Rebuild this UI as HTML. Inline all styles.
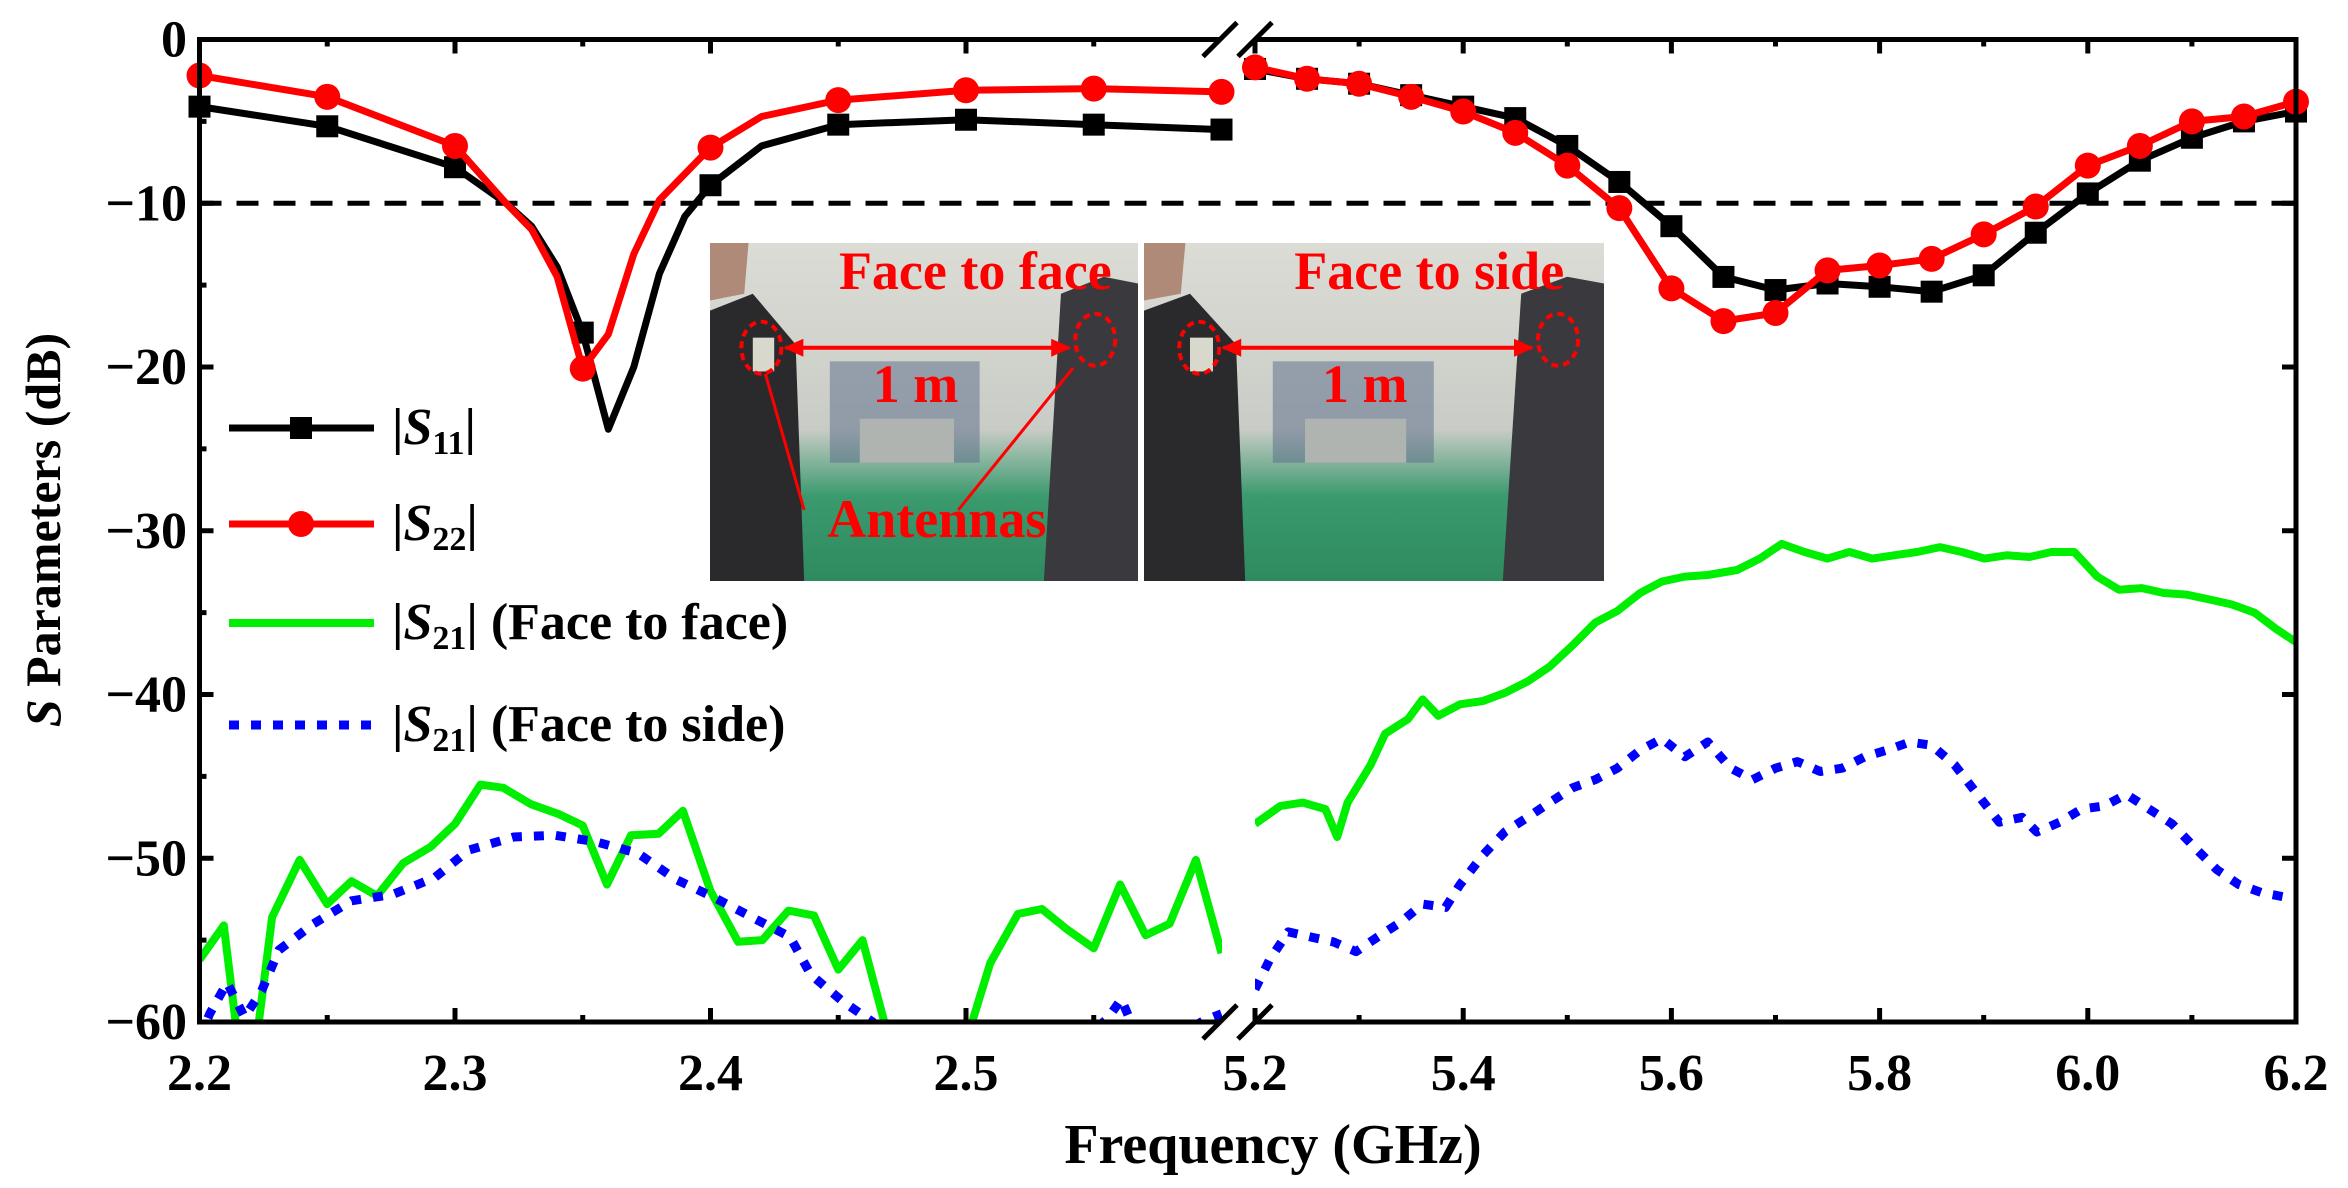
<!DOCTYPE html>
<html><head><meta charset="utf-8"><style>
html,body{margin:0;padding:0;background:#fff}
svg{display:block}
svg text{font-family:"Liberation Serif","Times New Roman",serif;font-weight:bold}
</style></head><body>
<svg id="chart" width="2348" height="1188" viewBox="0 0 2348 1188" xmlns="http://www.w3.org/2000/svg" font-family="Liberation Serif, serif" font-weight="bold">
<defs>
<clipPath id="clipL"><rect x="199" y="39" width="1023" height="984"/></clipPath>
<clipPath id="clipR"><rect x="1255" y="39" width="1042" height="984"/></clipPath>
<linearGradient id="wall" x1="0" y1="0" x2="0" y2="1"><stop offset="0" stop-color="#dcdcd6"/><stop offset="0.55" stop-color="#c9ccc6"/><stop offset="0.75" stop-color="#3a9a6e"/><stop offset="1" stop-color="#2f8a60"/></linearGradient>
</defs>
<g id="photos"></g>
<g id="series"></g>
<g id="axes"></g>
<g id="legend"></g>
</svg>
<script>
// ---- data ----
const s11LeftF=[2.2,2.25,2.3,2.32,2.33,2.34,2.35,2.36,2.37,2.38,2.39,2.4,2.42,2.45,2.5,2.55,2.6];
const s11LeftV=[-4.1,-5.3,-7.8,-10,-11.4,-13.9,-17.9,-23.8,-20,-14.3,-10.8,-8.9,-6.5,-5.2,-4.9,-5.2,-5.5];
const s22LeftF=[2.2,2.25,2.3,2.32,2.33,2.34,2.35,2.36,2.37,2.38,2.39,2.4,2.42,2.45,2.5,2.55,2.6];
const s22LeftV=[-2.2,-3.5,-6.5,-10,-11.6,-14.5,-20.1,-18,-13.1,-9.8,-8.2,-6.6,-4.7,-3.7,-3.1,-3.0,-3.2];
const markerLeftF=[2.2,2.25,2.3,2.35,2.4,2.45,2.5,2.55,2.6];
const rightF=[5.2,5.25,5.3,5.35,5.4,5.45,5.5,5.55,5.6,5.65,5.7,5.75,5.8,5.85,5.9,5.95,6.0,6.05,6.1,6.15,6.2];
const s11RightV=[-1.8,-2.4,-2.7,-3.4,-4.1,-4.8,-6.5,-8.7,-11.4,-14.5,-15.3,-14.9,-15.1,-15.4,-14.4,-11.8,-9.4,-7.4,-6.0,-5.0,-4.4];
const s22RightV=[-1.7,-2.4,-2.7,-3.5,-4.4,-5.7,-7.7,-10.3,-15.2,-17.2,-16.7,-14.1,-13.8,-13.4,-11.9,-10.2,-7.7,-6.5,-5.0,-4.7,-3.8];
const g1LeftF=[2.2,2.2095,2.2149,2.2216,2.2284,2.2392,2.25,2.2595,2.2695,2.2797,2.2905,2.3,2.31,2.3189,2.3297,2.3405,2.35,2.3595,2.3689,2.3797,2.3892,2.4,2.4108,2.4203,2.4305,2.4405,2.45,2.4595,2.4689,2.48,2.49,2.5014,2.5095,2.5203,2.5297,2.5392,2.55,2.5603,2.5703,2.5797,2.59,2.6];
const g1LeftV=[-56.2,-54.1,-61,-62,-53.6,-50.1,-52.8,-51.4,-52.3,-50.3,-49.3,-47.9,-45.5,-45.7,-46.7,-47.3,-48.0,-51.6,-48.6,-48.5,-47.1,-52.0,-55.1,-55.0,-53.2,-53.5,-56.8,-55.0,-60.5,-63,-63,-60.5,-56.4,-53.4,-53.1,-54.3,-55.5,-51.6,-54.7,-54.0,-50.1,-55.8];
const b1LeftF=[2.2,2.204,2.2108,2.2176,2.2243,2.2311,2.2446,2.2595,2.2757,2.2919,2.3054,2.323,2.3392,2.3554,2.3716,2.3865,2.4014,2.4162,2.4311,2.4392,2.4514,2.4635,2.48,2.52,2.55,2.5554,2.5608,2.57,2.5932,2.6];
const b1LeftV=[-61,-59.5,-57.6,-59.7,-58.1,-55.6,-54.0,-52.6,-52.2,-51.2,-49.5,-48.7,-48.6,-49.0,-49.7,-51.3,-52.4,-53.6,-54.8,-57.1,-58.7,-60,-63,-63,-60.5,-59.8,-58.6,-62,-59.9,-59.5];
const g1RightF=[5.2,5.2245,5.246,5.2676,5.279,5.289,5.311,5.325,5.347,5.361,5.376,5.397,5.419,5.44,5.462,5.483,5.505,5.527,5.548,5.57,5.591,5.613,5.635,5.663,5.685,5.706,5.728,5.75,5.771,5.793,5.814,5.836,5.858,5.879,5.901,5.922,5.944,5.965,5.987,6.009,6.03,6.052,6.073,6.095,6.117,6.138,6.16,6.181,6.2];
const g1RightV=[-47.9,-46.8,-46.6,-47.0,-48.7,-46.6,-44.3,-42.4,-41.5,-40.3,-41.3,-40.6,-40.4,-39.9,-39.2,-38.3,-37.0,-35.6,-34.9,-33.8,-33.1,-32.8,-32.7,-32.4,-31.7,-30.8,-31.3,-31.7,-31.3,-31.7,-31.5,-31.3,-31.0,-31.3,-31.7,-31.5,-31.6,-31.3,-31.3,-32.8,-33.6,-33.5,-33.8,-33.9,-34.2,-34.5,-35.0,-36.0,-36.8];
const b1RightF=[5.2,5.214,5.232,5.253,5.275,5.297,5.318,5.34,5.361,5.383,5.397,5.419,5.44,5.462,5.483,5.505,5.527,5.548,5.57,5.591,5.613,5.635,5.657,5.678,5.7,5.721,5.743,5.764,5.786,5.807,5.829,5.85,5.872,5.894,5.915,5.937,5.951,5.973,5.994,6.016,6.037,6.059,6.081,6.102,6.124,6.145,6.167,6.2];
const b1RightV=[-58.0,-56.2,-54.5,-54.8,-55.1,-55.7,-54.8,-53.9,-52.8,-53.0,-51.6,-49.8,-48.4,-47.5,-46.6,-45.7,-45.2,-44.5,-43.4,-42.7,-43.8,-42.9,-44.5,-45.2,-44.5,-44.1,-44.7,-44.5,-43.8,-43.4,-42.9,-43.1,-44.3,-46.1,-47.8,-47.5,-48.4,-47.8,-47.0,-46.8,-46.1,-47.0,-47.9,-49.3,-50.7,-51.6,-52.1,-52.5];
const yTicks=[0,-10,-20,-30,-40,-50,-60];
const yTickLabels=["0","\u221210","\u221220","\u221230","\u221240","\u221250","\u221260"];
const xLeftTicks=[2.2,2.3,2.4,2.5];
const xLeftLabels=["2.2","2.3","2.4","2.5"];
const xRightTicks=[5.2,5.4,5.6,5.8,6.0,6.2];
const xRightLabels=["5.2","5.4","5.6","5.8","6.0","6.2"];

// ---- scales ----
const X0=199.5,X1=2296,Y0=39.5,Y1=1022;
function xL(f){return 199.5+(f-2.2)*2555;}
function xR(f){return 1255+(f-5.2)*1041;}
function y(d){return Y0-d*(Y1-Y0)/60;}
const NS="http://www.w3.org/2000/svg";
function mk(tag,attrs,parent){const e=document.createElementNS(NS,tag);for(const k in attrs)e.setAttribute(k,attrs[k]);parent.appendChild(e);return e;}
const series=document.getElementById('series'),axes=document.getElementById('axes'),legend=document.getElementById('legend'),photos=document.getElementById('photos');
const FF='"Liberation Serif", serif';

function line(fs,vs,xf,style,clip,name){
  const pts=fs.map((f,i)=>xf(f).toFixed(1)+','+y(vs[i]).toFixed(1)).join(' ');
  const p=mk('polyline',Object.assign({points:pts,fill:'none','clip-path':'url(#'+clip+')','stroke-linejoin':'round'},style),series);
  
  
}
const gStyle={stroke:'#00ee00','stroke-width':8};
const bStyle={stroke:'#0000ff','stroke-width':9,'stroke-dasharray':'10 12'};
const ref=mk('line',{x1:X0,x2:X1,y1:y(-10),y2:y(-10),stroke:'#000','stroke-width':5,'stroke-dasharray':'22 15'},series);


line(g1LeftF,g1LeftV,xL,gStyle,'clipL','s21-face-to-face-left');
line(b1LeftF,b1LeftV,xL,bStyle,'clipL','s21-face-to-side-left');
line(g1RightF,g1RightV,xR,gStyle,'clipR','s21-face-to-face-right');
line(b1RightF,b1RightV,xR,bStyle,'clipR','s21-face-to-side-right');
line(s11LeftF,s11LeftV,xL,{stroke:'#000','stroke-width':7},'clipL','s11-left');
line(rightF,s11RightV,xR,{stroke:'#000','stroke-width':7},'clipR','s11-right');
function interp(fs,vs,f){for(let i=0;i<fs.length-1;i++){if(f>=fs[i]-1e-9&&f<=fs[i+1]+1e-9){const t=(f-fs[i])/(fs[i+1]-fs[i]);return vs[i]+t*(vs[i+1]-vs[i]);}}return vs[vs.length-1];}
markerLeftF.forEach(f=>{const r=mk('rect',{x:xL(f)-11,y:y(interp(s11LeftF,s11LeftV,f))-11,width:22,height:22,fill:'#000'},series);

});
rightF.forEach((f,i)=>{const r=mk('rect',{x:xR(f)-11,y:y(s11RightV[i])-11,width:22,height:22,fill:'#000'},series);

});
line(s22LeftF,s22LeftV,xL,{stroke:'#ff0000','stroke-width':7},'clipL','s22-left');
line(rightF,s22RightV,xR,{stroke:'#ff0000','stroke-width':7},'clipR','s22-right');
markerLeftF.forEach(f=>{const c=mk('circle',{cx:xL(f),cy:y(interp(s22LeftF,s22LeftV,f)),r:13,fill:'#ff0000'},series);

});
rightF.forEach((f,i)=>{const c=mk('circle',{cx:xR(f),cy:y(s22RightV[i]),r:13,fill:'#ff0000'},series);

});

// ---- axes ----
const BL=1220,BR=1255;
const frame=[[X0,Y0,BL,Y0],[BR,Y0,X1,Y0],[X0,Y1,BL,Y1],[BR,Y1,X1,Y1],[X0,Y0-2.5,X0,Y1+2.5],[X1,Y0-2.5,X1,Y1+2.5]];
frame.forEach(s=>{const l=mk('line',{x1:s[0],y1:s[1],x2:s[2],y2:s[3],stroke:'#000','stroke-width':5},axes);

});
[BL,BR].forEach(bx=>{[Y0,Y1].forEach(by=>{const l=mk('line',{x1:bx-17,y1:by+17,x2:bx+17,y2:by-17,stroke:'#000','stroke-width':5},axes);

});});
yTicks.forEach((v,i)=>{
  [[X0,X0+14],[X1,X1-14]].forEach(s=>{const t=mk('line',{x1:s[0],x2:s[1],y1:y(v),y2:y(v),stroke:'#000','stroke-width':5},axes);
  
  });
  if(i<yTicks.length-1){const m=mk('line',{x1:X0,x2:X0+7,y1:y(v-5),y2:y(v-5),stroke:'#000','stroke-width':5},axes);
  
  }
  const tx=mk('text',{x:187,y:y(v)+17,'text-anchor':'end','font-size':52,'font-family':FF,'font-weight':'bold'},axes);tx.textContent=yTickLabels[i];
  
  
});
function xticks(ticks,labels,xf,minorStep,minorCount){
  ticks.forEach((f,i)=>{const x=xf(f);
    [[Y1,Y1-14],[Y0,Y0+14]].forEach(s=>{const t=mk('line',{x1:x,x2:x,y1:s[0],y2:s[1],stroke:'#000','stroke-width':5},axes);
    
    });
    const tx=mk('text',{x:x,y:1090,'text-anchor':'middle','font-size':52,'font-family':FF,'font-weight':'bold'},axes);tx.textContent=labels[i];
    
    
  });
  for(let k=0;k<minorCount;k++){const x=xf(ticks[0]+minorStep*(2*k+1));
    [[Y1,Y1-7],[Y0,Y0+7]].forEach(s=>{const t=mk('line',{x1:x,x2:x,y1:s[0],y2:s[1],stroke:'#000','stroke-width':5},axes);
    
    });}
}
xticks(xLeftTicks,xLeftLabels,xL,0.05,4);
xticks(xRightTicks,xRightLabels,xR,0.1,5);
const xt=mk('text',{x:1273,y:1163,'text-anchor':'middle','font-size':56,'font-family':FF,'font-weight':'bold'},axes);xt.textContent='Frequency (GHz)';


const yt=mk('text',{x:0,y:0,'text-anchor':'middle','font-size':50,'font-family':FF,'font-weight':'bold',transform:'translate(60,530) rotate(-90)'},axes);
yt.innerHTML='<tspan font-style="italic">S</tspan> Parameters (dB)';



// ---- legend ----
const legY=[428,524,623,725];
const legDefs=[
 {stroke:'#000',w:7,dash:null,mark:'sq',label:'|<tspan font-style="italic">S</tspan><tspan font-size="34" dy="10">11</tspan><tspan dy="-10">|</tspan>',name:'legend-s11'},
 {stroke:'#ff0000',w:7,dash:null,mark:'ci',label:'|<tspan font-style="italic">S</tspan><tspan font-size="34" dy="10">22</tspan><tspan dy="-10">|</tspan>',name:'legend-s22'},
 {stroke:'#00ee00',w:8,dash:null,mark:null,label:'|<tspan font-style="italic">S</tspan><tspan font-size="34" dy="10">21</tspan><tspan dy="-10">| (Face to face)</tspan>',name:'legend-s21-face-to-face'},
 {stroke:'#0000ff',w:9,dash:'10 12',mark:null,label:'|<tspan font-style="italic">S</tspan><tspan font-size="34" dy="10">21</tspan><tspan dy="-10">| (Face to side)</tspan>',name:'legend-s21-face-to-side'}];
legDefs.forEach((d,i)=>{const g=mk('g',{},legend);
  
  
  const a={x1:229,x2:374,y1:legY[i],y2:legY[i],stroke:d.stroke,'stroke-width':d.w};if(d.dash)a['stroke-dasharray']=d.dash;mk('line',a,g);
  if(d.mark==='sq')mk('rect',{x:290,y:legY[i]-11,width:22,height:22,fill:d.stroke},g);
  if(d.mark==='ci')mk('circle',{cx:301,cy:legY[i],r:13,fill:d.stroke},g);
  const t=mk('text',{x:392,y:legY[i]+16,'font-size':52,'font-family':FF,'font-weight':'bold'},g);t.innerHTML=d.label;
});

// ---- inset photos ----
function photo(x,w,name,title,hasArrowsAnt){
  const g=mk('g',{},photos);
  
  
  const H0=243,H=338;
  mk('rect',{x:x,y:H0,width:w,height:H,fill:'url(#wall)'},g);
  mk('rect',{x:x+w*0.28,y:H0+H*0.35,width:w*0.35,height:H*0.3,fill:'#5a6a8a',opacity:0.5},g);
  mk('rect',{x:x+w*0.35,y:H0+H*0.52,width:w*0.22,height:H*0.13,fill:'#b0b4b0'},g);
  mk('path',{d:`M${x} ${H0+H*0.2} L${x+w*0.1} ${H0+H*0.15} L${x+w*0.2} ${H0+H*0.3} L${x+w*0.22} ${H0+H} L${x} ${H0+H}Z`,fill:'#2a2a2c'},g);
  mk('path',{d:`M${x} ${H0} L${x+w*0.09} ${H0} L${x+w*0.08} ${H0+H*0.15} L${x} ${H0+H*0.17}Z`,fill:'#b08a78'},g);
  mk('path',{d:`M${x+w*0.82} ${H0+H*0.15} L${x+w*0.92} ${H0+H*0.1} L${x+w} ${H0+H*0.12} L${x+w} ${H0+H} L${x+w*0.78} ${H0+H}Z`,fill:'#3a3a3e'},g);
  mk('rect',{x:x+w*0.1,y:H0+H*0.28,width:w*0.05,height:H*0.1,fill:'#d8d8cc'},g);
  const tt=mk('text',{x:x+w*0.62,y:H0+46,'text-anchor':'middle','font-size':54,fill:'#ff0000','font-family':FF,'font-weight':'bold'},g);tt.textContent=title;
  const cx1=x+w*0.12,cx2=x+w*0.9,cy=H0+H*0.31;
  mk('ellipse',{cx:cx1,cy:cy,rx:20,ry:26,fill:'none',stroke:'#ff0000','stroke-width':4,'stroke-dasharray':'7 5'},g);
  mk('ellipse',{cx:cx2,cy:cy-8,rx:20,ry:26,fill:'none',stroke:'#ff0000','stroke-width':4,'stroke-dasharray':'7 5'},g);
  mk('line',{x1:cx1+24,x2:cx2-26,y1:cy,y2:cy,stroke:'#ff0000','stroke-width':4},g);
  mk('path',{d:`M${cx1+22} ${cy} l20 -9 l0 18z M${cx2-24} ${cy} l-20 -9 l0 18z`,fill:'#ff0000'},g);
  const m=mk('text',{x:x+w*0.48,y:H0+H*0.47,'text-anchor':'middle','font-size':54,fill:'#ff0000','font-family':FF,'font-weight':'bold'},g);m.textContent='1 m';
  if(hasArrowsAnt){
    mk('line',{x1:x+w*0.22,y1:H0+H*0.79,x2:cx1+4,y2:cy+26,stroke:'#ff0000','stroke-width':3},g);
    mk('line',{x1:x+w*0.58,y1:H0+H*0.79,x2:cx2-22,y2:cy+20,stroke:'#ff0000','stroke-width':3},g);
    const a=mk('text',{x:x+w*0.53,y:H0+H*0.87,'text-anchor':'middle','font-size':54,fill:'#ff0000','font-family':FF,'font-weight':'bold'},g);a.textContent='Antennas';
  }
}
photo(710,428,'photo-face-to-face','Face to face',true);
photo(1144,460,'photo-face-to-side','Face to side',false);
</script>
</body></html>
